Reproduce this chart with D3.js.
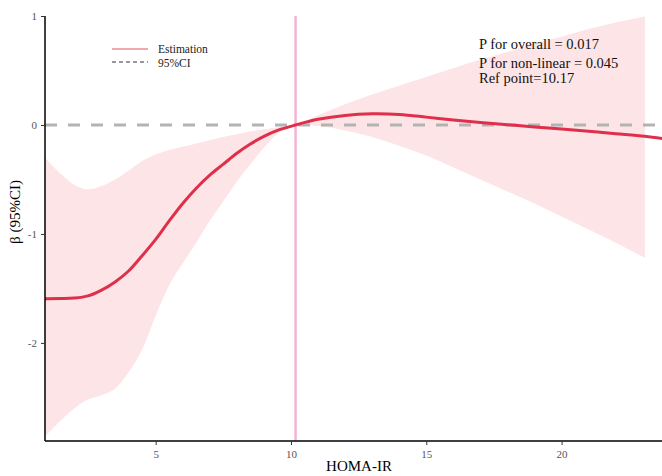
<!DOCTYPE html>
<html>
<head>
<meta charset="utf-8">
<script src="https://cdn.jsdelivr.net/npm/d3@7"></script>
<style>
  body { margin: 0; background: #fff; }
  svg { display: block; font-family: "Liberation Serif", "Times New Roman", serif; }
</style>
</head>
<body>
<script>
const width = 662;
const height = 476;

// HOMA-IR values where the spline was read
const xVals = [0.91, 1.5, 2, 2.5, 3, 3.5, 4, 4.5, 5, 5.5, 6, 6.5, 7, 7.5, 8, 8.5, 9, 9.5,
  10.17, 11, 12, 13, 14, 15, 16, 17, 18, 19, 20, 21, 22, 23.08, 24];
// estimated beta
const estVals = [-1.594, -1.593, -1.588, -1.568, -1.515, -1.44, -1.34, -1.20, -1.05, -0.88, -0.72, -0.58,
  -0.46, -0.36, -0.26, -0.175, -0.105, -0.05,
  0, 0.052, 0.088, 0.102, 0.096, 0.072, 0.045, 0.022, 0.002, -0.018, -0.038, -0.058, -0.08, -0.104, -0.134];
// 95% CI (no band past the last fitted point)
const lowerVals = [-2.86, -2.71, -2.60, -2.52, -2.48, -2.42, -2.27, -2.06, -1.75, -1.47, -1.27, -1.08,
  -0.88, -0.70, -0.52, -0.36, -0.21, -0.08,
  0, -0.01, -0.05, -0.11, -0.19, -0.28, -0.39, -0.50, -0.61, -0.72, -0.84, -0.96, -1.08, -1.22, null];
const upperVals = [-0.30, -0.45, -0.55, -0.59, -0.56, -0.50, -0.42, -0.33, -0.27, -0.23, -0.20, -0.17,
  -0.14, -0.11, -0.085, -0.06, -0.04, -0.02,
  0, 0.09, 0.19, 0.28, 0.36, 0.44, 0.52, 0.60, 0.67, 0.75, 0.81, 0.88, 0.94, 0.995, null];

const refPoint = 10.17;
const xTicks = [5, 10, 15, 20];
const yTicks = [1, 0, -1, -2];
const annotations = ["P for overall = 0.017", "P for non-linear = 0.045", "Ref point=10.17"];
const legendItems = ["Estimation", "95%CI"];

const data = xVals.map((x, i) => ({ x, est: estVals[i], lo: lowerVals[i], hi: upperVals[i] }));

const svg = d3.select("body")
    .append("svg")
    .attr("width", width)
    .attr("height", height);

const xScale = d3.scaleLinear()
    .domain([0.91, 24.5])
    .range([45, 45 + (24.5 - 0.91) * 27.06]);

const yScale = d3.scaleLinear()
    .domain([-2.9, 1])
    .range([441, 16]);

const smooth = d3.curveCatmullRom.alpha(0.5);

// CI band
const area = d3.area()
    .defined(d => d.lo !== null)
    .x(d => xScale(d.x))
    .y0(d => yScale(d.lo))
    .y1(d => yScale(d.hi))
    .curve(smooth);

svg.append("path")
    .datum(data)
    .attr("d", area)
    .attr("fill", "#fde4e6");

// zero reference line
svg.append("line")
    .attr("x1", xScale(0.91))
    .attr("x2", width)
    .attr("y1", yScale(0))
    .attr("y2", yScale(0))
    .attr("stroke", "#b3b3b3")
    .attr("stroke-width", 3)
    .attr("stroke-dasharray", "12,11");

// ref point line
svg.append("line")
    .attr("x1", xScale(refPoint))
    .attr("x2", xScale(refPoint))
    .attr("y1", yScale(1))
    .attr("y2", yScale(-2.9))
    .attr("stroke", "#f4b3d3")
    .attr("stroke-width", 2.5);

// estimate
const line = d3.line()
    .x(d => xScale(d.x))
    .y(d => yScale(d.est))
    .curve(smooth);

svg.append("path")
    .datum(data)
    .attr("d", line)
    .attr("fill", "none")
    .attr("stroke", "#df2f4b")
    .attr("stroke-width", 3);

// axes
const xAxis = svg.append("g")
    .attr("transform", `translate(0, ${yScale(-2.9)})`)
    .call(d3.axisBottom(xScale).tickValues(xTicks).tickSize(4).tickPadding(5)
        .tickFormat(d => String(d)));

const yAxis = svg.append("g")
    .attr("transform", `translate(${xScale(0.91)}, 0)`)
    .call(d3.axisLeft(yScale).tickValues(yTicks).tickSize(4).tickPadding(4)
        .tickFormat(d => String(d)));

[xAxis, yAxis].forEach(g => {
    g.select(".domain").attr("stroke", "#000").attr("stroke-width", 1.5);
    g.selectAll(".tick line").attr("stroke", "#333");
    g.selectAll(".tick text")
        .attr("fill", "#555")
        .attr("font-size", 11)
        .attr("font-family", "Liberation Serif, serif");
});
xAxis.select(".domain").attr("d", `M${xScale(0.91)},0H${width + 10}`);
yAxis.select(".domain").attr("d", `M0,${yScale(1)}V${yScale(-2.9)}`);

// axis titles
svg.append("text")
    .attr("x", 359)
    .attr("y", 471)
    .attr("text-anchor", "middle")
    .attr("font-size", 15)
    .text("HOMA-IR");

svg.append("text")
    .attr("transform", "translate(20, 212) rotate(-90)")
    .attr("text-anchor", "middle")
    .attr("font-size", 15)
    .text("β (95%CI)");

// legend
const legend = svg.append("g").attr("transform", "translate(112, 49)");
legend.append("line")
    .attr("x1", 0).attr("x2", 36).attr("y1", 0).attr("y2", 0)
    .attr("stroke", "#e8505f").attr("stroke-width", 1.2);
legend.append("line")
    .attr("x1", 0).attr("x2", 36).attr("y1", 13).attr("y2", 13)
    .attr("stroke", "#333").attr("stroke-width", 1.2)
    .attr("stroke-dasharray", "4,3");
legend.selectAll("text.leg")
    .data(legendItems)
    .join("text")
    .attr("class", "leg")
    .attr("x", 46)
    .attr("y", (d, i) => i * 14 + 3.5)
    .attr("font-size", 11.5)
    .attr("fill", "#222")
    .text(d => d);

// annotations
svg.selectAll("text.note")
    .data(annotations)
    .join("text")
    .attr("class", "note")
    .attr("x", 479)
    .attr("y", (d, i) => [49, 67.5, 82.5][i])
    .attr("font-size", 14.5)
    .attr("fill", "#111")
    .text(d => d);
</script>
</body>
</html>
